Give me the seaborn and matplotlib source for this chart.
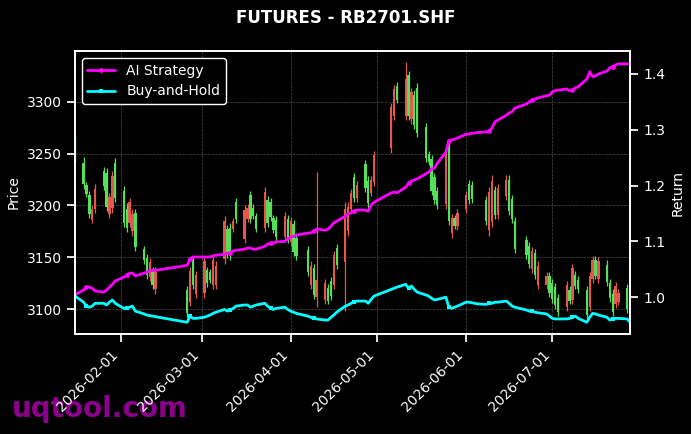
import matplotlib
matplotlib.use("Agg")
import matplotlib.pyplot as plt
import matplotlib.dates as mdates
import numpy as np
import pandas as pd
import seaborn as sns

# ── Data ─────────────────────────────────────────────────────────────────────
TITLE = "FUTURES - RB2701.SHF"
nan = np.nan

trade_days = [
    # Jan
    "2026-01-16", "2026-01-19", "2026-01-20", "2026-01-21", "2026-01-22", "2026-01-23",
    "2026-01-26", "2026-01-27", "2026-01-28", "2026-01-29", "2026-01-30",
    # Feb
    "2026-02-02", "2026-02-03", "2026-02-04", "2026-02-05", "2026-02-06",
    "2026-02-09", "2026-02-10", "2026-02-11", "2026-02-12", "2026-02-13",
    "2026-02-24", "2026-02-25", "2026-02-26", "2026-02-27",
    # Mar
    "2026-03-02", "2026-03-03", "2026-03-04", "2026-03-05", "2026-03-06",
    "2026-03-09", "2026-03-10", "2026-03-11", "2026-03-12", "2026-03-13",
    "2026-03-16", "2026-03-17", "2026-03-18", "2026-03-19", "2026-03-20",
    "2026-03-23", "2026-03-24", "2026-03-25", "2026-03-26", "2026-03-27",
    "2026-03-30", "2026-03-31",
    # Apr
    "2026-04-01", "2026-04-02", "2026-04-03", "2026-04-07", "2026-04-08",
    "2026-04-09", "2026-04-10", "2026-04-13", "2026-04-14", "2026-04-15",
    "2026-04-16", "2026-04-17", "2026-04-20", "2026-04-21", "2026-04-22",
    "2026-04-23", "2026-04-24", "2026-04-27", "2026-04-28", "2026-04-29",
    "2026-04-30",
    # May
    "2026-05-06", "2026-05-07", "2026-05-08", "2026-05-11", "2026-05-12",
    "2026-05-13", "2026-05-14", "2026-05-15", "2026-05-18", "2026-05-19",
    "2026-05-20", "2026-05-21", "2026-05-22", "2026-05-25", "2026-05-26",
    "2026-05-27", "2026-05-28", "2026-05-29",
    # Jun
    "2026-06-01", "2026-06-02", "2026-06-03", "2026-06-04", "2026-06-05",
    "2026-06-08", "2026-06-09", "2026-06-10", "2026-06-11", "2026-06-12",
    "2026-06-15", "2026-06-16", "2026-06-17", "2026-06-18", "2026-06-22",
    "2026-06-23", "2026-06-24", "2026-06-25", "2026-06-26", "2026-06-29",
    "2026-06-30",
    # Jul
    "2026-07-01", "2026-07-02", "2026-07-03", "2026-07-06", "2026-07-07",
    "2026-07-08", "2026-07-09", "2026-07-10", "2026-07-13", "2026-07-14",
    "2026-07-15", "2026-07-16", "2026-07-17", "2026-07-20", "2026-07-21",
    "2026-07-22", "2026-07-23", "2026-07-24", "2026-07-27", "2026-07-28",
]

open_ = [
    3263, 3241, 3220, 3210, 3186, 3197, 3233, 3231, 3192, 3198, 3241,
    3214, 3197, 3183, 3175, 3193, 3158, 3149, 3131, 3137, 3119, 3118, 3107, 3147, 3115,
    3116, 3138, 3136, 3123, 3123, 3148, 3177, 3178, 3177, 3203, 3168, 3187, 3210, 3198,
    3190, 3178, 3205, 3203, 3188, 3186, 3170, 3187,
    3165, 3182, 3169, 3157, 3123, 3140, 3112, 3109, 3120, 3127, 3123, 3159, 3145, 3175,
    3197, 3227, 3207, 3240, 3224, 3212, 3223,
    3255, 3286, 3315, 3286, 3326, 3283, 3307, 3313, 3276, 3250, 3245, 3227, 3214, 3201,
    3258, 3173, 3188, 3180,
    3197, 3221, 3220, nan, nan, 3205, 3176, 3184, 3215, 3191, 3209, 3225, 3206, 3185,
    3167, 3161, 3139, 3154, 3123, 3123, 3132,
    3125, 3121, 3111, 3102, 3118, 3109, 3133, 3128, 3118, 3102, 3129, 3147, 3129, 3143,
    3125, 3115, 3105, 3107, 3120, 3112,
]
high = [
    3268, 3247, 3223, 3214, 3200, 3221, 3237, 3236, 3212, 3233, 3246,
    3219, 3202, 3207, 3197, 3197, 3161, 3153, 3149, 3141, 3141, 3122, 3141, 3151, 3137,
    3151, 3141, 3139, 3151, 3146, 3190, 3181, 3183, 3188, 3207, 3200, 3201, 3214, 3201,
    3193, 3218, 3209, 3207, 3191, 3190, 3194, 3191,
    3189, 3186, 3173, 3161, 3146, 3144, 3232, 3129, 3124, 3131, 3156, 3163, 3203, 3203,
    3216, 3231, 3224, 3244, 3228, 3228, 3253,
    3299, 3316, 3319, 3338, 3330, 3313, 3311, 3318, 3280, 3253, 3249, 3231, 3218, 3257,
    3263, 3192, 3191, 3197,
    3214, 3225, 3224, nan, nan, 3209, 3218, 3229, 3219, 3221, 3229, 3229, 3210, 3189,
    3171, 3165, 3160, 3158, 3146, 3136, 3136,
    3129, 3125, 3115, 3127, 3122, 3144, 3137, 3132, 3122, 3136, 3151, 3151, 3150, 3147,
    3129, 3119, 3126, 3119, 3124, 3116,
]
low = [
    3243, 3216, 3208, 3188, 3183, 3193, 3215, 3195, 3188, 3193, 3203,
    3179, 3174, 3179, 3171, 3156, 3144, 3129, 3127, 3119, 3115, 3091, 3103, 3119, 3111,
    3111, 3121, 3125, 3119, 3119, 3144, 3149, 3147, 3174, 3183, 3164, 3184, 3183, 3187,
    3174, 3174, 3179, 3185, 3173, 3166, 3166, 3164,
    3161, 3151, 3147, 3132, 3119, 3110, 3102, 3105, 3105, 3109, 3119, 3139, 3098, 3171,
    3193, 3203, 3203, 3213, 3198, 3209, 3219,
    3251, 3282, 3299, 3282, 3282, 3279, 3274, 3266, 3242, 3239, 3210, 3201, 3197, 3197,
    3181, 3169, 3177, 3176,
    3193, 3201, 3202, nan, nan, 3181, 3171, 3179, 3187, 3187, 3205, 3191, 3183, 3154,
    3148, 3140, 3135, 3129, 3119, 3119, 3112,
    3106, 3100, 3093, 3098, 3105, 3105, 3119, 3116, 3090, 3098, 3125, 3129, 3125, 3122,
    3107, 3093, 3101, 3104, 3096, 3099,
]
close = [
    3248, 3221, 3211, 3192, 3197, 3216, 3219, 3199, 3208, 3228, 3207,
    3183, 3178, 3203, 3192, 3160, 3147, 3133, 3145, 3123, 3136, 3096, 3137, 3123, 3133,
    3146, 3125, 3128, 3147, 3142, 3185, 3153, 3151, 3185, 3187, 3196, 3198, 3187, 3190,
    3177, 3213, 3183, 3189, 3176, 3170, 3190, 3168,
    3185, 3155, 3151, 3136, 3142, 3114, 3128, 3125, 3108, 3113, 3152, 3143, 3197, 3199,
    3212, 3207, 3220, 3217, 3202, 3225, 3249,
    3295, 3312, 3302, 3322, 3286, 3309, 3278, 3270, 3246, 3242, 3214, 3205, 3200, 3253,
    3185, 3188, 3180, 3193,
    3210, 3205, 3206, nan, nan, 3185, 3213, 3224, 3191, 3217, 3225, 3195, 3187, 3158,
    3152, 3144, 3156, 3133, 3142, 3132, 3116,
    3110, 3104, 3097, 3123, 3108, 3140, 3122, 3119, 3094, 3132, 3147, 3132, 3146, 3126,
    3111, 3097, 3122, 3116, 3100, 3102,
]

ai_strategy = [
    1.004, 1.013, 1.018, 1.018, 1.016, 1.011, 1.009, 1.013, 1.018, 1.023, 1.029,
    1.036, 1.039, 1.043, 1.043, 1.038, 1.043, 1.045, 1.047, 1.048, 1.048, 1.057, 1.068,
    1.072, 1.072,
    1.072, 1.072, 1.072, 1.074, 1.075, 1.077, 1.079, 1.079, 1.083, 1.084, 1.086, 1.088,
    1.088, 1.086, 1.086, 1.091, 1.095, 1.097, 1.097, 1.099, 1.100, 1.104,
    1.108, 1.109, 1.111, 1.115, 1.115, 1.118, 1.122, 1.120, 1.122, 1.127, 1.133, 1.136,
    1.145, 1.149, 1.151, 1.154, 1.156, 1.156, 1.154, 1.165, 1.170,
    1.187, 1.188, 1.187, 1.197, 1.204, 1.208, 1.210, 1.212, 1.221, 1.224, 1.230, 1.231,
    1.240, 1.260, 1.280, 1.282, 1.283, 1.285,
    1.292, 1.292, 1.294, 1.294, 1.295, 1.296, 1.298, 1.303, 1.314, 1.317, 1.326, 1.330,
    1.332, 1.339, 1.346, 1.350, 1.353, 1.355, 1.357, 1.361, 1.362,
    1.368, 1.370, 1.371, 1.373, 1.370, 1.371, 1.375, 1.377, 1.391, 1.404, 1.395, 1.396,
    1.400, 1.405, 1.411, 1.413, 1.416, 1.418, 1.418, 1.418,
]
buy_and_hold = [
    1.002, 0.991, 0.984, 0.982, 0.984, 0.989, 0.989, 0.986, 0.991, 0.995, 0.989,
    0.980, 0.980, 0.982, 0.984, 0.975, 0.970, 0.968, 0.967, 0.966, 0.965, 0.955, 0.966,
    0.962, 0.962,
    0.964, 0.966, 0.968, 0.971, 0.973, 0.978, 0.975, 0.977, 0.980, 0.984, 0.986, 0.986,
    0.982, 0.984, 0.986, 0.989, 0.984, 0.980, 0.978, 0.980, 0.982, 0.978,
    0.975, 0.973, 0.971, 0.966, 0.964, 0.962, 0.961, 0.959, 0.959, 0.964, 0.968, 0.973,
    0.984, 0.986, 0.989, 0.991, 0.993, 0.993, 0.989, 0.996, 1.002,
    1.014, 1.016, 1.018, 1.023, 1.016, 1.020, 1.014, 1.009, 1.004, 1.002, 0.998, 0.995,
    0.996, 1.000, 0.982, 0.980, 0.982, 0.984,
    0.991, 0.991, 0.990, 0.989, 0.988, 0.987, 0.989, 0.989, 0.991, 0.991, 0.993, 0.989,
    0.984, 0.982, 0.977, 0.975, 0.975, 0.973, 0.972, 0.970, 0.966,
    0.962, 0.961, 0.961, 0.961, 0.962, 0.964, 0.966, 0.962, 0.955, 0.964, 0.971, 0.970,
    0.968, 0.964, 0.959, 0.961, 0.962, 0.962, 0.961, 0.955,
]

UP_COLOR = "#e4574c"     # close above open
DOWN_COLOR = "#55e05a"   # close below open

# ── Styling ──────────────────────────────────────────────────────────────────
sns.set_theme(style="ticks", rc={
    "figure.facecolor": "black",
    "axes.facecolor": "black",
    "axes.edgecolor": "white",
    "axes.labelcolor": "white",
    "text.color": "white",
    "xtick.color": "white",
    "ytick.color": "white",
    "xtick.labelsize": 10,
    "ytick.labelsize": 10,
    "axes.labelsize": 10,
    "legend.fontsize": 10,
})
plt.rcParams["font.family"] = ["DejaVu Sans"]

df = pd.DataFrame({
    "date": pd.to_datetime(trade_days),
    "open": open_, "high": high, "low": low, "close": close,
    "ai": ai_strategy, "bh": buy_and_hold,
})
candles = df.dropna(subset=["open"])

fig = plt.figure(figsize=(6.91, 4.34), dpi=100)
ax = fig.add_axes([0.1085, 0.2304, 0.8032, 0.652])
ax2 = ax.twinx()

# ── Candlesticks on the price axis ───────────────────────────────────────────
colors = np.where(candles["close"] >= candles["open"], UP_COLOR, DOWN_COLOR)
ax.vlines(candles["date"], candles["low"], candles["high"], colors=colors, linewidth=0.9)
body_low = np.minimum(candles["open"], candles["close"])
body_h = (candles["close"] - candles["open"]).abs()
ax.bar(candles["date"], body_h, bottom=body_low, width=0.8, color=colors, linewidth=0)

ax.set_ylim(3076, 3349)
ax.set_xlim(df["date"].iloc[0], df["date"].iloc[-1])
ax.set_ylabel("Price")
ax.grid(True, linestyle="--", linewidth=0.5, color="gray", alpha=0.6)
ax.xaxis.set_major_locator(mdates.MonthLocator())
ax.xaxis.set_major_formatter(mdates.DateFormatter("%Y-%m-%d"))
plt.setp(ax.get_xticklabels(), rotation=45, ha="right")

# ── Return curves on the twin axis ───────────────────────────────────────────
sns.lineplot(data=df, x="date", y="ai", ax=ax2, color="#ff00ff", linewidth=2,
             marker="o", markersize=3.5, markevery=(2, 10), markeredgewidth=0,
             label="AI Strategy")
sns.lineplot(data=df, x="date", y="bh", ax=ax2, color="#00ffff", linewidth=2,
             marker="s", markersize=3.5, markevery=(2, 10), markeredgewidth=0,
             label="Buy-and-Hold")
ax2.set_ylim(0.934, 1.441)
ax2.set_xlim(df["date"].iloc[0], df["date"].iloc[-1])
ax2.set_ylabel("Return")
ax2.set_xlabel("")
ax2.grid(False)

for a in (ax, ax2):
    for side in ("left", "right", "top", "bottom"):
        a.spines[side].set_visible(True)
        a.spines[side].set_color("white")

leg = ax2.legend(loc="upper left", facecolor="black", edgecolor="white", framealpha=1)
for t in leg.get_texts():
    t.set_color("white")

fig.text(0.5, 0.958, TITLE, ha="center", va="center", fontsize=12, fontweight="bold")
# watermark sits behind the axes and tick labels
fig.text(0.017, 0.039, "uqtool.com", ha="left", va="baseline", fontsize=20,
         fontweight="bold", color="#8c008c", zorder=-1)

fig.savefig("out.png", dpi=100, facecolor="black")
